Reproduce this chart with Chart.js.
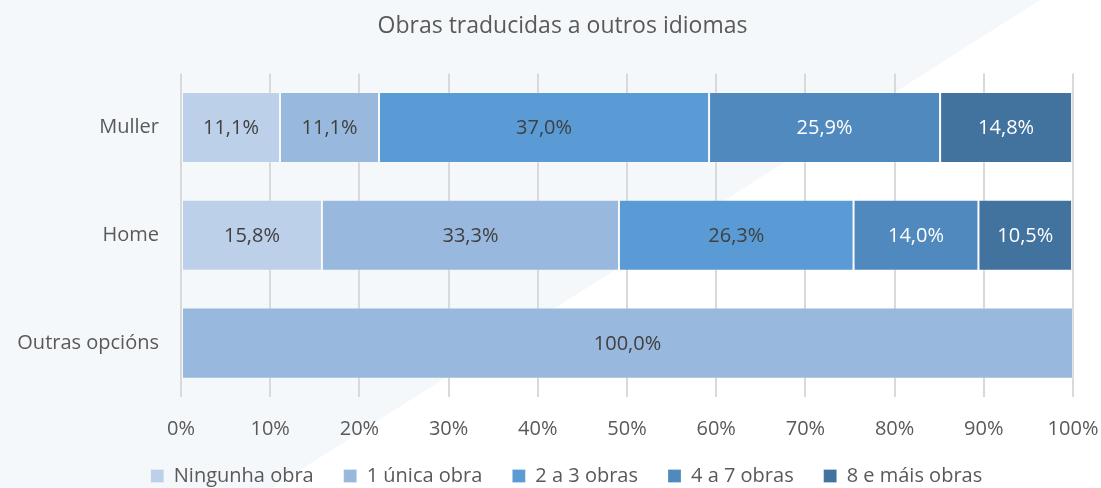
<!DOCTYPE html>
<html>
<head>
<meta charset="utf-8">
<script src="https://cdn.jsdelivr.net/npm/chart.js@4/dist/chart.umd.min.js"></script>
<style>
  html, body { margin:0; padding:0; background:#fff; }
  #wrap { width:1101px; height:488px; position:relative; }
</style>
</head>
<body>
<div id="wrap"><canvas id="chart"></canvas></div>
<script>
const categories = ["Muller", "Home", "Outras opcións"];
const seriesNames = ["Ningunha obra", "1 única obra", "2 a 3 obras", "4 a 7 obras", "8 e máis obras"];
const ningunha = [11.1, 15.8, 0];
const unica = [11.1, 33.3, 100];
const dousTres = [37.0, 26.3, 0];
const catroSete = [25.9, 14.0, 0];
const oitoMais = [14.8, 10.5, 0];
const xTicks = [0, 10, 20, 30, 40, 50, 60, 70, 80, 90, 100];

const colors = ["#bdd0e9", "#98b8de", "#5a9ad5", "#4f89bd", "#42729e"];
const labelColors = ["#404040", "#404040", "#404040", "#ffffff", "#ffffff"];
const FONT = "'Open Sans', sans-serif";

const background = {
    id:"background",
    beforeDraw(chart){
        const ctx = chart.ctx;
        ctx.save();
        ctx.fillStyle = "#ffffff";
        ctx.fillRect(0, 0, chart.width, chart.height);
        ctx.fillStyle = "#f5f8fb";
        ctx.beginPath();
        ctx.moveTo(0, 0);
        ctx.lineTo(1040, 0);
        ctx.lineTo(272, chart.height);
        ctx.lineTo(0, chart.height);
        ctx.closePath();
        ctx.fill();
        ctx.restore();
    }
};

// the original centres title and legend a bit right of the canvas middle
const shiftBoxes = {
    id:"shiftBoxes",
    afterLayout(chart){
        if(chart.titleBlock){
            chart.titleBlock.left += 12;
            chart.titleBlock.right += 12;
        }
        if(chart.legend){
            chart.legend.left += 16;
            chart.legend.right += 16;
        }
    }
};

const barLabels = {
    id:"barLabels",
    afterDatasetsDraw(chart){
        const ctx = chart.ctx;
        ctx.save();
        ctx.font = "20px " + FONT;
        ctx.textAlign = "center";
        ctx.textBaseline = "middle";
        chart.data.datasets.forEach((ds, i) => {
            const meta = chart.getDatasetMeta(i);
            meta.data.forEach((bar, j) => {
                const v = ds.data[j];
                if(!v) return;
                const c = bar.getCenterPoint();
                ctx.fillStyle = labelColors[i];
                ctx.fillText(v.toFixed(1).replace(".", ",") + "%", c.x, c.y + 1);
            });
        });
        ctx.restore();
    }
};

const seriesData = [ningunha, unica, dousTres, catroSete, oitoMais];

new Chart(document.getElementById("chart"), {
    type:"bar",
    data:{
        labels:categories,
        datasets:seriesNames.map((name, i) => ({
            label:name,
            data:seriesData[i],
            backgroundColor:colors[i],
            borderColor:"rgba(255,255,255,0.25)",
            borderWidth:1,
            borderSkipped:false,
            categoryPercentage:0.66,
            barPercentage:1
        }))
    },
    options:{
        indexAxis:"y",
        responsive:true,
        maintainAspectRatio:false,
        animation:false,
        layout:{ padding:{ left:0, right:0, top:0, bottom:-8 } },
        scales:{
            x:{
                stacked:true,
                min:0,
                max:100,
                afterBuildTicks(axis){
                    axis.ticks = xTicks.map(v => ({ value:v }));
                },
                afterFit(axis){
                    axis.height = 39;
                    axis.paddingRight = 28;
                },
                ticks:{
                    color:"#595959",
                    padding:20,
                    maxRotation:0,
                    font:{ family:FONT, size:20 },
                    callback:v => v + "%"
                },
                grid:{ color:"#d9d9d9", lineWidth:2, drawTicks:false },
                border:{ display:false }
            },
            y:{
                stacked:true,
                afterFit(axis){
                    axis.width = 181;
                },
                ticks:{
                    color:"#595959",
                    padding:14,
                    font:{ family:FONT, size:20 }
                },
                grid:{ display:false },
                border:{ display:false }
            }
        },
        plugins:{
            title:{
                display:true,
                text:"Obras traducidas a outros idiomas",
                color:"#595959",
                font:{ family:FONT, size:23, weight:"normal" },
                padding:{ top:13, bottom:33 }
            },
            legend:{
                position:"bottom",
                labels:{
                    color:"#595959",
                    boxWidth:13,
                    boxHeight:13,
                    padding:30,
                    font:{ family:FONT, size:20 }
                }
            },
            tooltip:{ enabled:false }
        }
    },
    plugins:[background, shiftBoxes, barLabels]
});
</script>
</body>
</html>
